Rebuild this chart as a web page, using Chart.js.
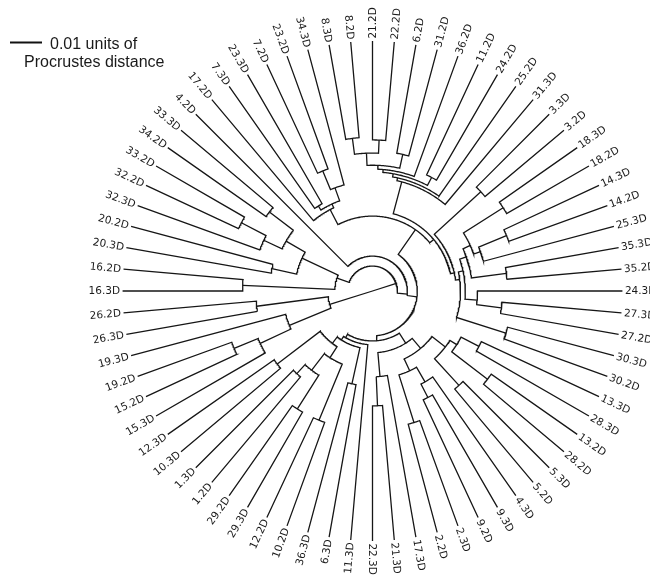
<!DOCTYPE html>
<html>
<head>
<meta charset="utf-8">
<script src="https://cdn.jsdelivr.net/npm/chart.js@4"></script>
<style>
  body { margin: 0; background: #fff; }
  canvas { display: block; }
</style>
</head>
<body>
<canvas id="tree" width="650" height="577"></canvas>
<script>
// leaves in clockwise order, first one pointing left
const leaves = ["16.3D","16.2D","20.3D","20.2D","32.3D","32.2D","33.2D","34.2D","33.3D","4.2D",
  "17.2D","7.3D","23.3D","7.2D","23.2D","34.3D","8.3D","8.2D","21.2D","22.2D",
  "6.2D","31.2D","36.2D","11.2D","24.2D","25.2D","31.3D","3.3D","3.2D","18.3D",
  "18.2D","14.3D","14.2D","25.3D","35.3D","35.2D","24.3D","27.3D","27.2D","30.3D",
  "30.2D","13.3D","28.3D","13.2D","28.2D","5.3D","5.2D","4.3D","9.3D","9.2D",
  "2.3D","2.2D","17.3D","21.3D","22.3D","11.3D","6.3D","36.3D","10.2D","12.2D",
  "29.3D","29.2D","1.2D","1.3D","10.3D","12.3D","15.3D","15.2D","19.2D","19.3D",
  "26.3D","26.2D"];

// [node, child, child, merge height (Procrustes distance)]
const merges = [
  ["t1","8.3D","8.2D",0.0300], ["t2","21.2D","22.2D",0.0309], ["t3","t1","t2",0.0350],
  ["t4","6.2D","31.2D",0.0344], ["t5","t3","t4",0.0388], ["t6","t5","36.2D",0.0400],
  ["t7","11.2D","24.2D",0.0381], ["t8","t6","t7",0.0409], ["t9","t8","25.2D",0.0419],
  ["t10","t9","31.3D",0.0428],
  ["r1","3.3D","3.2D",0.0322], ["r2","18.3D","18.2D",0.0297], ["r3","14.3D","14.2D",0.0328],
  ["r4","r3","25.3D",0.0422], ["r5","r2","r4",0.0444], ["r6","35.3D","35.2D",0.0359],
  ["r7","r5","r6",0.0469], ["r8","27.3D","27.2D",0.0375], ["r9","24.3D","r8",0.0453],
  ["r10","r7","r9",0.0491], ["r11","30.3D","30.2D",0.0344], ["r12","r10","r11",0.0506],
  ["r13","r1","r12",0.0519], ["right","t10","r13",0.0531],
  ["l1","7.3D","23.3D",0.0466], ["l2","7.2D","23.2D",0.0375], ["l3","l2","34.3D",0.0438],
  ["l4","l1","l3",0.0481], ["upper","17.2D","l4",0.0494], ["n1","upper","right",0.0547],
  ["m1","13.3D","28.3D",0.0406], ["m2","13.2D","28.2D",0.0328], ["m3","m1","m2",0.0469],
  ["m4","5.3D","5.2D",0.0381], ["m5","m3","m4",0.0494], ["m6","9.3D","9.2D",0.0406],
  ["m7","4.3D","m6",0.0453], ["m8","2.3D","2.2D",0.0350], ["m9","m7","m8",0.0506],
  ["m10","m5","m9",0.0547], ["m11","21.3D","22.3D",0.0422], ["m12","17.3D","m11",0.0513],
  ["m13","m10","m12",0.0588],
  ["b1","6.3D","36.3D",0.0484], ["b2","10.2D","12.2D",0.0344], ["b3","29.3D","29.2D",0.0344],
  ["b4","1.2D","1.3D",0.0431], ["b5","b3","b4",0.0469], ["b6","b2","b5",0.0534],
  ["b7","10.3D","12.3D",0.0406], ["b8","b6","b7",0.0575], ["b9","b1","b8",0.0600],
  ["b10","11.3D","b9",0.0613], ["lower","m13","b10",0.0625],
  ["k","n1","lower",0.0641], ["d","4.2D","k",0.0672],
  ["p16","16.3D","16.2D",0.0375], ["p20","20.3D","20.2D",0.0459], ["f1","32.2D","33.2D",0.0319],
  ["f2","32.3D","f1",0.0406], ["f3","34.2D","33.3D",0.0375], ["f","f2","f3",0.0469],
  ["e","p20","f",0.0538], ["c","p16","e",0.0663], ["b","c","d",0.0703],
  ["q1","15.2D","19.2D",0.0313], ["q2","15.3D","q1",0.0394], ["a3","q2","19.3D",0.0500],
  ["p26","26.3D","26.2D",0.0416], ["a","a3","p26",0.0641],
  ["root","a","b",0.0781]
];

const treeHeight = 0.0781;
const scaleBar = 0.01;

const PX = 3200;            // pixels per unit of Procrustes distance
const CX = 372.5, CY = 291; // centre of the fan on the canvas
const STEP = 360 / leaves.length;

// angle of every leaf / node = middle of the leaf span below it
const nodes = {};
leaves.forEach((name, k) => {
  const deg = 180 + STEP * k;
  nodes[name] = { lo: deg, hi: deg, angle: deg, h: 0 };
});
merges.forEach(([id, c1, c2, h]) => {
  const lo = Math.min(nodes[c1].lo, nodes[c2].lo);
  const hi = Math.max(nodes[c1].hi, nodes[c2].hi);
  nodes[id] = { lo, hi, angle: (lo + hi) / 2, h };
});

function polar(r, deg) {
  const a = deg * Math.PI / 180;
  return { x: r * Math.cos(a), y: -r * Math.sin(a) };
}

// child stem in, arc at the merge height, other child stem out
function branchPath(n, c1, c2) {
  const r = treeHeight - n.h;
  const pts = [polar(treeHeight - c1.h, c1.angle)];
  const steps = Math.max(1, Math.ceil(Math.abs(c2.angle - c1.angle) / 0.5));
  for (let i = 0; i <= steps; i++) {
    pts.push(polar(r, c1.angle + (c2.angle - c1.angle) * i / steps));
  }
  pts.push(polar(treeHeight - c2.h, c2.angle));
  return pts;
}

const datasets = merges.map(([id, c1, c2]) => ({
  data: branchPath(nodes[id], nodes[c1], nodes[c2]),
  showLine: true,
  borderColor: '#161616',
  borderWidth: 1.3,
  pointRadius: 0,
  fill: false,
  tension: 0
}));

const labelsPlugin = {
  id: 'leafLabels',
  afterDatasetsDraw(chart) {
    const { ctx, scales: { x, y } } = chart;
    const cx = x.getPixelForValue(0), cy = y.getPixelForValue(0);
    const rTip = x.getPixelForValue(treeHeight) - cx;
    ctx.save();
    ctx.fillStyle = '#1a1a1a';
    ctx.font = '10.5px "DejaVu Sans"';
    ctx.textBaseline = 'middle';
    leaves.forEach(name => {
      const a = nodes[name].angle * Math.PI / 180;
      ctx.save();
      ctx.translate(cx + (rTip + 2.5) * Math.cos(a), cy + (rTip + 2.5) * Math.sin(a));
      if (Math.cos(a) > -1e-6) {
        ctx.rotate(a);
        ctx.textAlign = 'left';
      } else {
        ctx.rotate(a + Math.PI);
        ctx.textAlign = 'right';
      }
      ctx.fillText(name, 0, 0.5);
      ctx.restore();
    });

    // scale bar
    const len = x.getPixelForValue(scaleBar) - x.getPixelForValue(0);
    ctx.strokeStyle = '#111';
    ctx.lineWidth = 2;
    ctx.beginPath();
    ctx.moveTo(10, 42.5);
    ctx.lineTo(10 + len, 42.5);
    ctx.stroke();
    ctx.font = '16px "Liberation Sans", Arial, sans-serif';
    ctx.textAlign = 'left';
    ctx.textBaseline = 'alphabetic';
    ctx.fillText(scaleBar + ' units of', 50, 49);
    ctx.fillText('Procrustes distance', 24, 67);
    ctx.restore();
  }
};

new Chart(document.getElementById('tree').getContext('2d'), {
  type: 'scatter',
  data: { datasets },
  options: {
    responsive: false,
    animation: false,
    devicePixelRatio: 1,
    layout: { padding: 0 },
    plugins: { legend: { display: false }, tooltip: { enabled: false } },
    scales: {
      x: { type: 'linear', display: false, min: -CX / PX, max: (650 - CX) / PX },
      y: { type: 'linear', display: false, min: -(577 - CY) / PX, max: CY / PX }
    }
  },
  plugins: [labelsPlugin]
});
</script>
</body>
</html>
